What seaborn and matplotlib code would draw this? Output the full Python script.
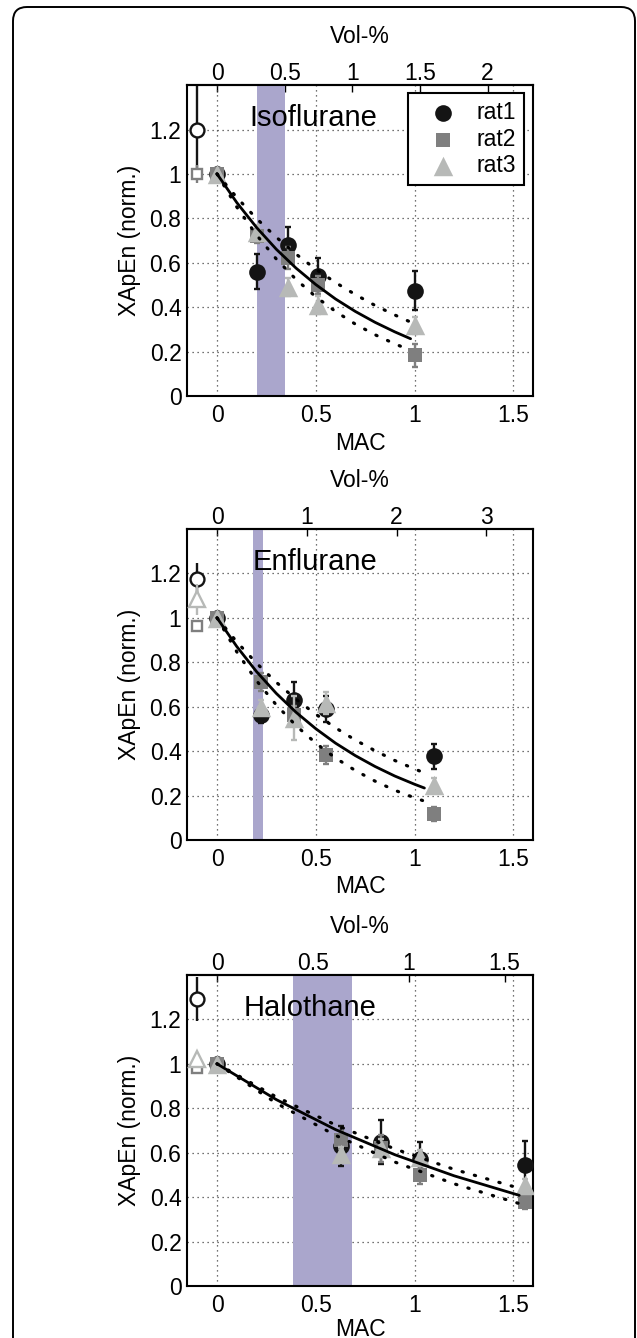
import numpy as np
import pandas as pd
import matplotlib
matplotlib.use('Agg')
import matplotlib.pyplot as plt
import seaborn as sns
from matplotlib.patches import FancyBboxPatch
from matplotlib.ticker import FuncFormatter

# ---- values ----
drugs = ['Isoflurane', 'Enflurane', 'Halothane']
vol_per_mac = [1.46, 2.2, 1.03]
vol_ticks = [[0, 0.5, 1, 1.5, 2], [0, 1, 2, 3], [0, 0.5, 1, 1.5]]
band_lo = [0.2, 0.18, 0.386]
band_hi = [0.343, 0.233, 0.682]
label_x = [0.166, 0.18, 0.137]

# Isoflurane
mac_iso = [0, 0.2, 0.36, 0.51, 1.0]
rat1_iso = [1.0, 0.56, 0.68, 0.54, 0.475]
rat1_iso_err = [0, 0.08, 0.08, 0.08, 0.087]
rat2_iso = [1.0, 0.72, 0.62, 0.50, 0.183]
rat2_iso_err = [0, 0.03, 0.05, 0.04, 0.05]
rat3_iso = [1.0, 0.74, 0.49, 0.41, 0.318]
rat3_iso_err = [0, 0.03, 0.04, 0.04, 0.04]
base_iso = [1.2, 1.0, None]
base_iso_err = [0.195, 0.04, 0]

# Enflurane
mac_enf = [0, 0.225, 0.39, 0.55, 1.1]
rat1_enf = [1.0, 0.565, 0.632, 0.59, 0.376]
rat1_enf_err = [0, 0.04, 0.08, 0.06, 0.055]
rat2_enf = [1.0, 0.71, 0.565, 0.383, 0.117]
rat2_enf_err = [0, 0.04, 0.04, 0.04, 0.03]
rat3_enf = [1.0, 0.60, 0.55, 0.617, 0.248]
rat3_enf_err = [0, 0.03, 0.10, 0.05, 0.03]
base_enf = [1.176, 0.962, 1.083]
base_enf_err = [0.07, 0.02, 0.07]

# Halothane
mac_hal = [0, 0.63, 0.83, 1.03, 1.56]
rat1_hal = [1.0, 0.63, 0.649, 0.57, 0.544]
rat1_hal_err = [0, 0.09, 0.10, 0.08, 0.11]
rat2_hal = [1.0, 0.656, 0.62, 0.50, 0.378]
rat2_hal_err = [0, 0.04, 0.06, 0.04, 0.03]
rat3_hal = [1.0, 0.596, 0.62, 0.581, 0.453]
rat3_hal_err = [0, 0.03, 0.04, 0.03, 0.03]
base_hal = [1.291, 0.98, 1.02]
base_hal_err = [0.1, 0.02, 0.02]

# fitted curves (fit, upper and lower bound)
fit_x_iso = [0, 0.1, 0.2, 0.3, 0.4, 0.5, 0.6, 0.7, 0.8, 0.9, 0.98]
fit_iso = [1.0, 0.871, 0.759, 0.661, 0.576, 0.502, 0.437, 0.381, 0.332, 0.289, 0.258]
fit_up_iso = [1.0, 0.894, 0.799, 0.715, 0.639, 0.571, 0.511, 0.457, 0.408, 0.365, 0.333]
fit_lo_iso = [1.0, 0.851, 0.725, 0.617, 0.525, 0.447, 0.381, 0.324, 0.276, 0.235, 0.206]

fit_x_enf = [0, 0.1, 0.2, 0.3, 0.4, 0.5, 0.6, 0.7, 0.8, 0.9, 1.0, 1.05]
fit_enf = [1.0, 0.871, 0.758, 0.660, 0.575, 0.501, 0.436, 0.380, 0.331, 0.288, 0.251, 0.234]
fit_up_enf = [1.0, 0.892, 0.796, 0.710, 0.634, 0.566, 0.505, 0.450, 0.402, 0.358, 0.320, 0.302]
fit_lo_enf = [1.0, 0.847, 0.717, 0.608, 0.515, 0.436, 0.369, 0.313, 0.265, 0.224, 0.190, 0.175]

fit_x_hal = [0, 0.3, 0.6, 0.9, 1.2, 1.53]
fit_hal = [1.0, 0.839, 0.704, 0.591, 0.496, 0.408]
fit_up_hal = [1.0, 0.851, 0.725, 0.617, 0.525, 0.440]
fit_lo_hal = [1.0, 0.823, 0.678, 0.558, 0.460, 0.371]

rats = ['rat1', 'rat2', 'rat3']
rat_colors = ['#141414', '#7f7f7f', '#b7b9b7']
rat_markers = ['o', 's', '^']
rat_sizes = [12, 10, 14]
open_sizes = [10, 7.5, 11]

panels = [
    (mac_iso, [rat1_iso, rat2_iso, rat3_iso], [rat1_iso_err, rat2_iso_err, rat3_iso_err],
     base_iso, base_iso_err, fit_x_iso, fit_iso, fit_up_iso, fit_lo_iso),
    (mac_enf, [rat1_enf, rat2_enf, rat3_enf], [rat1_enf_err, rat2_enf_err, rat3_enf_err],
     base_enf, base_enf_err, fit_x_enf, fit_enf, fit_up_enf, fit_lo_enf),
    (mac_hal, [rat1_hal, rat2_hal, rat3_hal], [rat1_hal_err, rat2_hal_err, rat3_hal_err],
     base_hal, base_hal_err, fit_x_hal, fit_hal, fit_up_hal, fit_lo_hal),
]

sns.set_style('white')
plt.rcParams['font.family'] = ['Liberation Sans', 'DejaVu Sans']
plt.rcParams['font.size'] = 16.5
plt.rcParams['axes.linewidth'] = 1.5
for key in ['text.color', 'axes.labelcolor', 'xtick.color', 'ytick.color', 'axes.edgecolor']:
    plt.rcParams[key] = 'black'

fig = plt.figure(figsize=(6.37, 13.38), dpi=100)

# rounded frame around the whole figure
frame = FancyBboxPatch((0.13, -0.5), 6.22, 13.81, boxstyle='round,pad=0,rounding_size=0.14',
                       transform=fig.dpi_scale_trans, fill=False, lw=1.4, ec='black')
fig.add_artist(frame)

fmt = FuncFormatter(lambda v, p: '%g' % v)
axes_pos = [(0.2936, 0.7040), (0.2936, 0.3722), (0.2936, 0.0389)]
mac_pad = [3, 3, 0.8]

for i, (mac, vals, errs, base, base_err, fx, fy, fup, flo) in enumerate(panels):
    ax = fig.add_axes([axes_pos[i][0], axes_pos[i][1], 0.5432, 0.2324])
    ax.set_xlim(-0.152, 1.6)
    ax.set_ylim(0, 1.4)
    ax.set_axisbelow(True)
    ax.grid(True, color='#444444', linestyle=(0, (1, 3)), linewidth=0.9)
    ax.set_xticks([0, 0.5, 1, 1.5])
    ax.set_yticks([0, 0.2, 0.4, 0.6, 0.8, 1.0, 1.2])
    ax.xaxis.set_major_formatter(fmt)
    ax.yaxis.set_major_formatter(fmt)
    ax.tick_params(direction='in', length=5, width=1, top=False, right=False, pad=4,
                   labelsize=16.5)
    ax.tick_params(axis='x', pad=6)
    for s in ax.spines.values():
        s.set_linewidth(1.5)
        s.set_color('black')

    ax.axvspan(band_lo[i], band_hi[i], color='#aaa6cc', lw=0, zorder=1)

    # baseline points (open markers)
    for r in range(3):
        if base[r] is None:
            continue
        ax.errorbar([-0.1], [base[r]], yerr=[base_err[r]], fmt=rat_markers[r],
                    ms=open_sizes[r], mfc='white', mec=rat_colors[r], mew=1.7,
                    ecolor=rat_colors[r], elinewidth=1.7, capsize=0, zorder=3 + r)

    for r in range(3):
        ax.errorbar(mac, vals[r], yerr=errs[r], fmt='none', ecolor=rat_colors[r],
                    elinewidth=1.7, capsize=2, capthick=1.7, zorder=3 + r)
        sns.scatterplot(x=mac, y=vals[r], ax=ax, marker=rat_markers[r],
                        s=rat_sizes[r] ** 2, color=rat_colors[r], edgecolor=rat_colors[r],
                        linewidth=0, label=rats[r] if i == 0 else None, zorder=3 + r,
                        legend=False)

    sns.lineplot(x=fx, y=fy, ax=ax, color='black', lw=2, zorder=7)
    for yy in (fup, flo):
        sns.lineplot(x=fx, y=yy, ax=ax, color='black', lw=2.3,
                     linestyle=(0, (0.4, 3.6)), dash_capstyle='round', zorder=7)

    ax.text(label_x[i], 1.215, drugs[i], fontsize=21, ha='left', va='baseline', zorder=8)

    ax.set_xlabel('MAC', labelpad=mac_pad[i], fontsize=16.5)
    ax.set_ylabel('XApEn (norm.)', labelpad=6, fontsize=16.5)

    f = vol_per_mac[i]
    sec = ax.secondary_xaxis('top', functions=(lambda m, f=f: m * f, lambda v, f=f: v / f))
    sec.set_xticks(vol_ticks[i])
    sec.xaxis.set_major_formatter(fmt)
    sec.tick_params(direction='in', length=5, width=1, pad=0, labelsize=16.5)
    sec.spines['top'].set_linewidth(1.5)
    sec.set_xlabel('Vol-%', labelpad=14, fontsize=16.5)

    if i == 0:
        leg = ax.legend(loc='upper right', bbox_to_anchor=(0.974, 0.974), frameon=True,
                        fancybox=False, framealpha=1, edgecolor='black', borderpad=0.35,
                        handlelength=2.4, handletextpad=0.25, labelspacing=0.15,
                        borderaxespad=0, fontsize=16.5)
        leg.get_frame().set_linewidth(1.5)
        leg.set_zorder(10)

fig.savefig('out.png', dpi=100)
